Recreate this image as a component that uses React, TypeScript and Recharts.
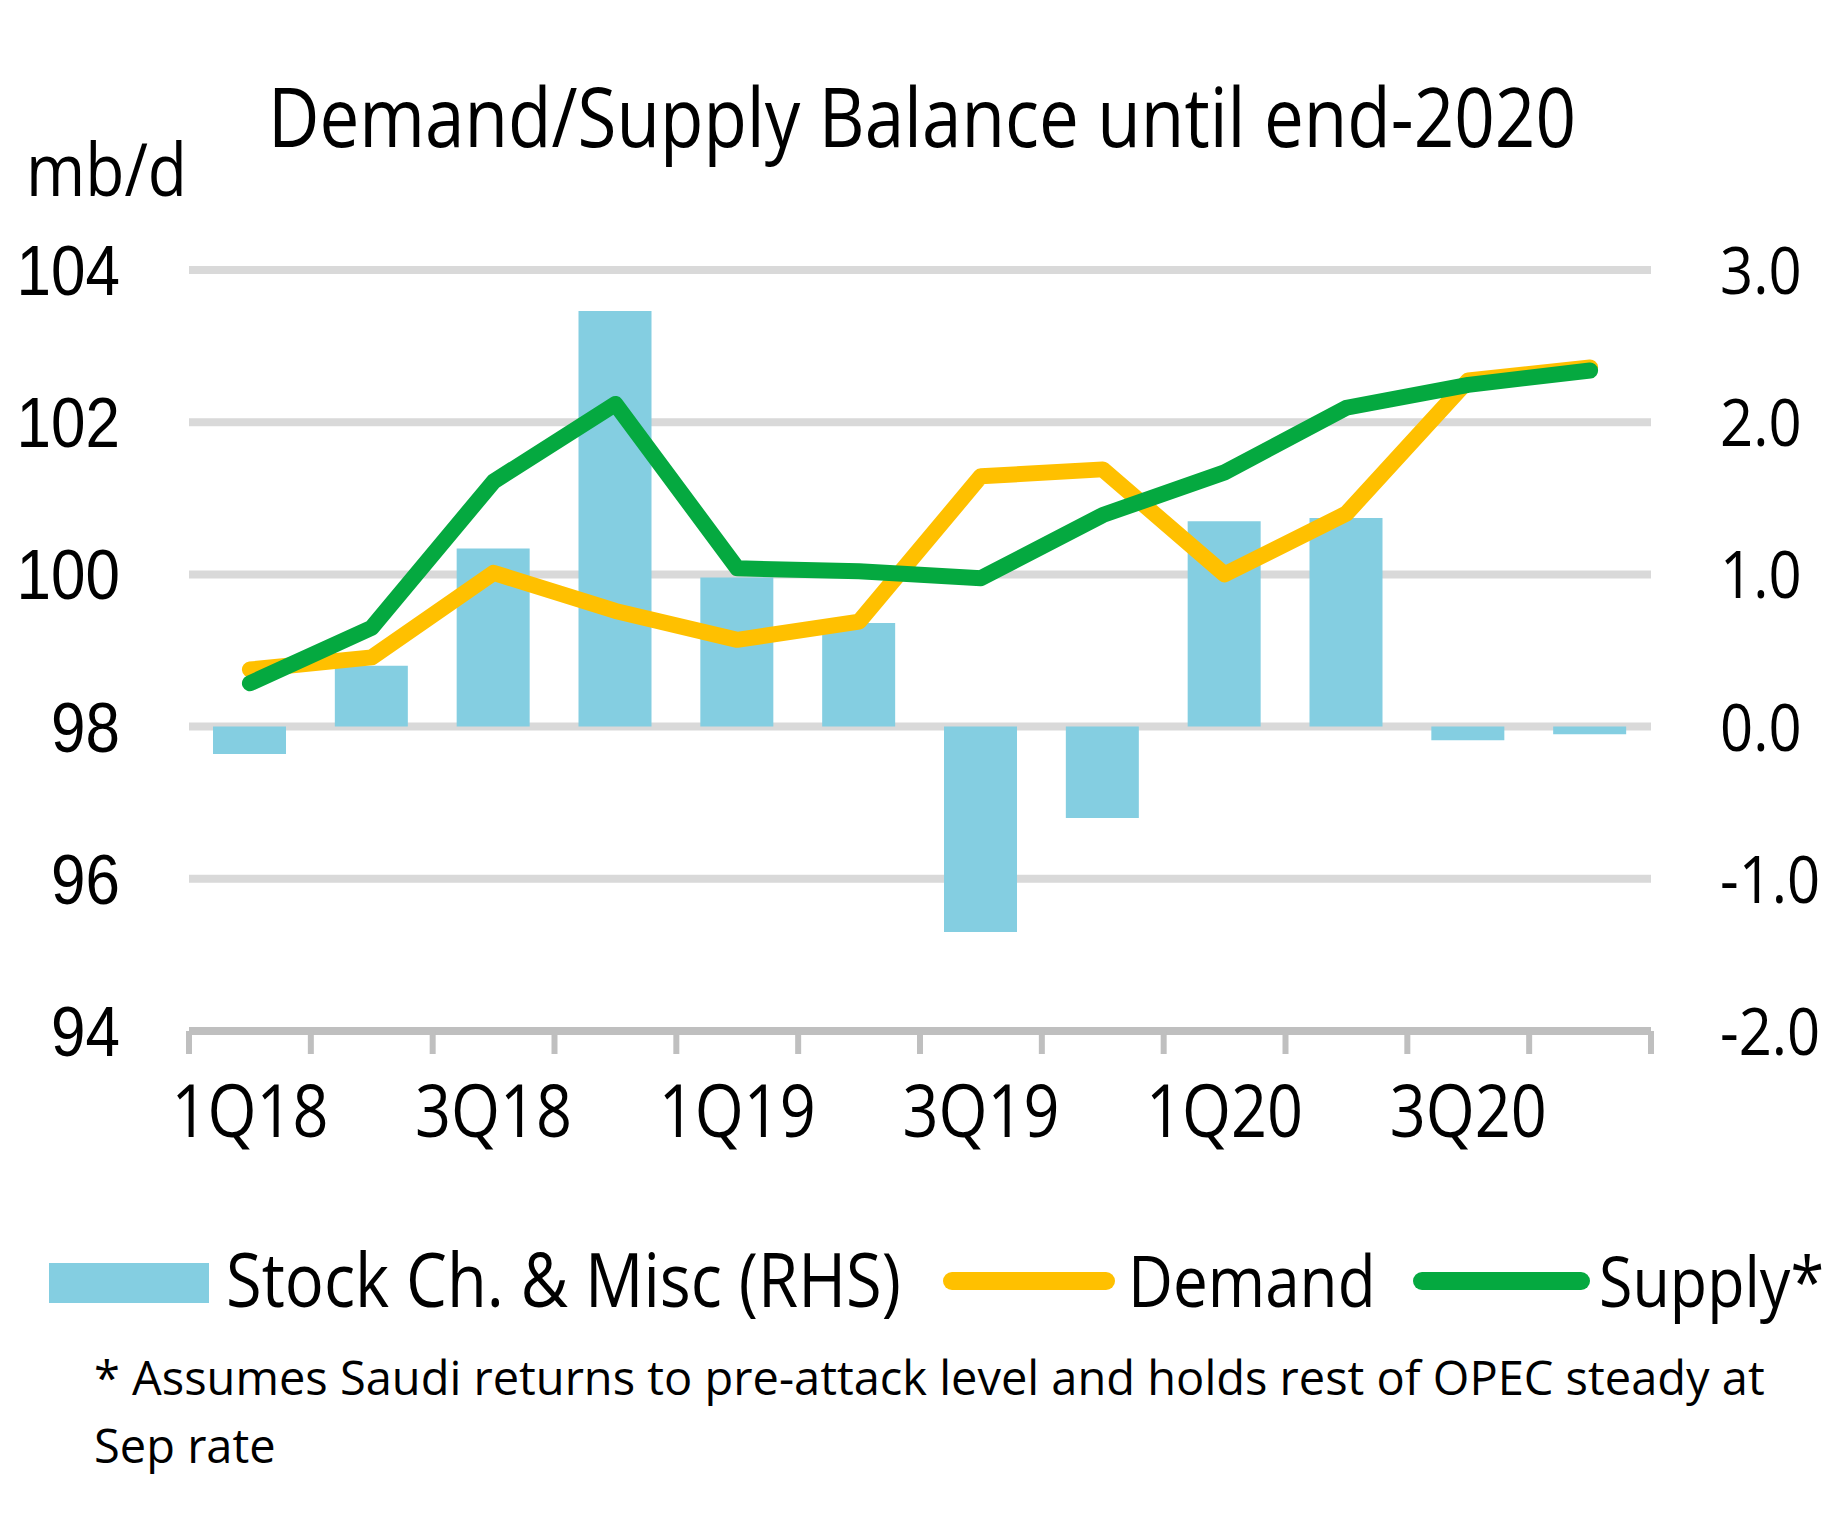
import React from "react";
import { ComposedChart, Bar, Line, XAxis, YAxis, CartesianGrid } from "recharts";

const quarters = ["1Q18", "2Q18", "3Q18", "4Q18", "1Q19", "2Q19", "3Q19", "4Q19", "1Q20", "2Q20", "3Q20", "4Q20"];
const stockChange = [-0.18, 0.4, 1.17, 2.73, 0.98, 0.68, -1.35, -0.6, 1.35, 1.37, -0.09, -0.05];
const demand = [98.75, 98.91, 100.02, 99.52, 99.14, 99.38, 101.29, 101.38, 100.0, 100.8, 102.55, 102.72];
const supply = [98.57, 99.3, 101.22, 102.24, 100.08, 100.04, 99.95, 100.78, 101.34, 102.19, 102.49, 102.68];
const leftTicks = [94, 96, 98, 100, 102, 104];
const rightTicks = [-2, -1, 0, 1, 2, 3];

const W = 1843;
const H = 1536;
const PLOT_LEFT = 189;
const PLOT_RIGHT = 1651;
const BAND = (PLOT_RIGHT - PLOT_LEFT) / quarters.length;
const SY = 1.15; // the source picture is stretched vertically
const FONT = "'Open Sans', 'Noto Sans', sans-serif";

const data = quarters.map((q, i) => ({
  q,
  stock: stockChange[i],
  demand: demand[i],
  supply: supply[i],
}));

const QuarterTick = (props: any) => {
  const { x, y, payload, index } = props;
  const left = x - BAND / 2;
  const right = x + BAND / 2;
  return (
    <g>
      <line x1={left} x2={left} y1={y} y2={y + 23} stroke="#bfbfbf" strokeWidth={6} />
      {index === quarters.length - 1 && (
        <line x1={right} x2={right} y1={y} y2={y + 23} stroke="#bfbfbf" strokeWidth={6} />
      )}
      {index % 2 === 0 && (
        <text
          transform={`translate(${x},${y + 106}) scale(1,${SY})`}
          textAnchor="middle"
          fontFamily={FONT}
          fontSize={63}
          fill="#000"
        >
          {payload.value}
        </text>
      )}
    </g>
  );
};

const LeftTick = (props: any) => {
  const { x, y, payload } = props;
  return (
    <text
      transform={`translate(${x},${y + 25}) scale(1,${SY})`}
      textAnchor="end"
      fontFamily="'Liberation Sans', Arial, sans-serif"
      fontSize={62}
      fill="#000"
    >
      {payload.value}
    </text>
  );
};

const RightTick = (props: any) => {
  const { x, y, payload } = props;
  return (
    <text
      transform={`translate(${x},${y + 24}) scale(1,${SY})`}
      textAnchor="start"
      fontFamily={FONT}
      fontSize={58}
      fill="#000"
    >
      {Number(payload.value).toFixed(1)}
    </text>
  );
};

const T = ({ x, y, size, anchor = "start", sy = SY, children }: any) => (
  <text
    transform={`translate(${x},${y}) scale(1,${sy})`}
    textAnchor={anchor}
    fontFamily={FONT}
    fontSize={size}
    fill="#000"
  >
    {children}
  </text>
);

export default function App() {
  return (
    <div style={{ position: "absolute", left: 0, top: 0, width: W, height: H, background: "#fff" }}>
      <ComposedChart
        width={W}
        height={H}
        data={data}
        margin={{ top: 270, right: 0, bottom: 385, left: 0 }}
      >
        <CartesianGrid vertical={false} stroke="#d9d9d9" strokeWidth={8} />
        <XAxis
          dataKey="q"
          height={120}
          tickSize={0}
          tickMargin={0}
          interval={0}
          axisLine={{ stroke: "#bfbfbf", strokeWidth: 8 }}
          tick={<QuarterTick />}
        />
        <YAxis
          domain={[94, 104]}
          ticks={leftTicks}
          width={PLOT_LEFT}
          axisLine={false}
          tickLine={false}
          tickSize={0}
          tickMargin={69}
          tick={<LeftTick />}
        />
        <YAxis
          yAxisId="right"
          orientation="right"
          domain={[-2, 3]}
          ticks={rightTicks}
          width={W - PLOT_RIGHT}
          axisLine={false}
          tickLine={false}
          tickSize={0}
          tickMargin={69}
          tick={<RightTick />}
        />
        <Bar yAxisId="right" dataKey="stock" fill="#84cee1" barSize={73} isAnimationActive={false} />
        <Line
          type="linear"
          dataKey="demand"
          stroke="#ffc000"
          strokeWidth={16}
          strokeLinecap="round"
          strokeLinejoin="round"
          dot={false}
          isAnimationActive={false}
        />
        <Line
          type="linear"
          dataKey="supply"
          stroke="#05a940"
          strokeWidth={16}
          strokeLinecap="round"
          strokeLinejoin="round"
          dot={false}
          isAnimationActive={false}
        />
      </ComposedChart>
      <svg
        width={W}
        height={H}
        style={{ position: "absolute", left: 0, top: 0, pointerEvents: "none" }}
      >
        <T x={922} y={147} size={71} anchor="middle">Demand/Supply Balance until end-2020</T>
        <T x={26} y={196} size={64}>mb/d</T>

        <rect x={49} y={1263} width={160} height={40} fill="#84cee1" />
        <T x={226} y={1307} size={65}>Stock Ch. &amp; Misc (RHS)</T>
        <line x1={952} x2={1106} y1={1281} y2={1281} stroke="#ffc000" strokeWidth={18} strokeLinecap="round" />
        <T x={1128} y={1307} size={62}>Demand</T>
        <line x1={1422} x2={1581} y1={1281} y2={1281} stroke="#05a940" strokeWidth={18} strokeLinecap="round" />
        <T x={1599} y={1307} size={61}>Supply*</T>

        <T x={94} y={1395} size={47} sy={1}>* Assumes Saudi returns to pre-attack level and holds rest of OPEC steady at</T>
        <T x={94} y={1463} size={47} sy={1}>Sep rate</T>
      </svg>
    </div>
  );
}
